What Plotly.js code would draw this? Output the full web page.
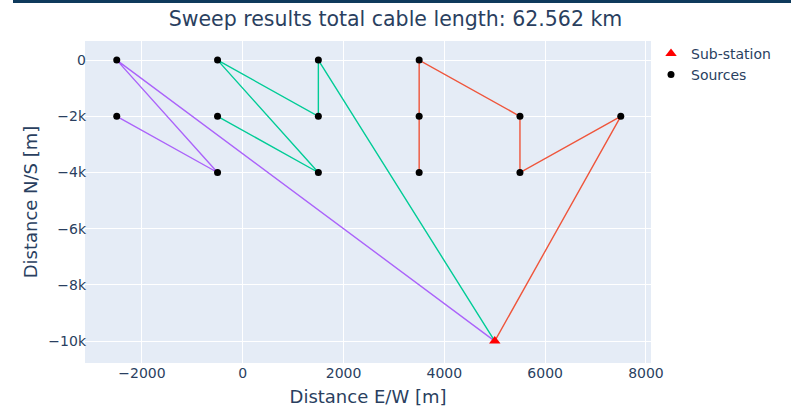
<!DOCTYPE html>
<html><head><meta charset="utf-8">
<script src="https://cdn.plot.ly/plotly-3.0.1.min.js"></script>
<style>html,body{margin:0;padding:0;background:#fff;overflow:hidden}#bar{position:absolute;left:13px;top:0;width:778px;height:3px;background:#0f3a5c;z-index:5}#chart{width:791px;height:409px}</style>
</head><body>
<div id="bar"></div>
<div id="chart"></div>
<script>
const titleText = "Sweep results total cable length: 62.562 km";
const subX = [5000];
const subY = [-10000];
const srcX = [-2500, -2500, -500, -500, -500, 1500, 1500, 1500, 3500, 3500, 3500, 5500, 5500, 7500];
const srcY = [0, -2000, 0, -2000, -4000, 0, -2000, -4000, 0, -2000, -4000, -2000, -4000, -2000];
const purpleX = [-2500, -500, -2500, 5000];
const purpleY = [-2000, -4000, 0, -10000];
const tealX = [-500, 1500, -500, 1500, 1500, 5000];
const tealY = [-2000, -4000, 0, -2000, 0, -10000];
const redX = [3500, 3500, 3500, 5500, 5500, 7500, 5000];
const redY = [-4000, -2000, 0, -2000, -4000, -2000, -10000];

const traces = [
  {x: purpleX, y: purpleY, mode: 'lines', line: {color: '#ab63fa', width: 1.4}, showlegend: false, hoverinfo: 'skip'},
  {x: tealX, y: tealY, mode: 'lines', line: {color: '#00cc96', width: 1.4}, showlegend: false, hoverinfo: 'skip'},
  {x: redX, y: redY, mode: 'lines', line: {color: '#ef553b', width: 1.4}, showlegend: false, hoverinfo: 'skip'},
  {x: subX, y: subY, mode: 'markers', name: 'Sub-station', marker: {symbol: 'triangle-up', color: 'red', size: 10}},
  {x: srcX, y: srcY, mode: 'markers', name: 'Sources', marker: {color: 'black', size: 7}}
];
const layout = {
  width: 791, height: 409,
  margin: {l: 85, r: 140, t: 41, b: 46, autoexpand: false},
  paper_bgcolor: '#fff', plot_bgcolor: '#e5ecf6',
  font: {family: '"DejaVu Sans", Verdana, sans-serif', color: '#2a3f5f', size: 14},
  title: {text: titleText, x: 0.5, xanchor: 'center', y: 0.955, yanchor: 'middle', font: {size: 20.5}},
  xaxis: {range: [-3130, 8100], gridcolor: '#fff', zerolinecolor: '#fff', zerolinewidth: 1, tickvals: [-2000,0,2000,4000,6000,8000], ticktext: ['−2000','0','2000','4000','6000','8000'],
    title: {text: 'Distance E/W [m]', font: {size: 18}, standoff: 10}},
  yaxis: {range: [-10780, 680], gridcolor: '#fff', zerolinecolor: '#fff', zerolinewidth: 1, tickvals: [0,-2000,-4000,-6000,-8000,-10000], ticktext: ['0','−2k','−4k','−6k','−8k','−10k'],
    ticklabelstandoff: -2, title: {text: 'Distance N/S [m]', font: {size: 18}, standoff: 6}},
  legend: {x: 1.0, y: 1.01, xanchor: 'left', yanchor: 'top', bgcolor: 'rgba(0,0,0,0)', font: {size: 14}},
  showlegend: true
};
Plotly.newPlot('chart', traces, layout, {displayModeBar: false, staticPlot: true});
</script>
</body></html>
